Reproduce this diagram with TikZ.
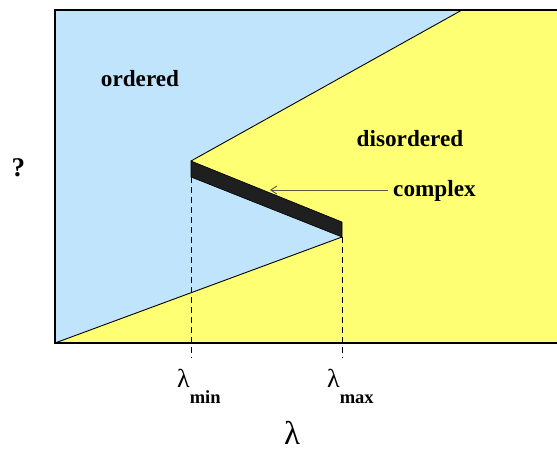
\documentclass[tikz,border=0pt]{standalone}
\usepackage{fontspec}
\setmainfont{Liberation Serif}
\usetikzlibrary{arrows.meta}
\definecolor{ordblue}{RGB}{191,228,252}
\definecolor{disyellow}{RGB}{255,255,115}
\definecolor{arrowgray}{RGB}{85,90,75}
\tikzset{
  region/.style={inner sep=0pt, font=\fontsize{23.2}{24}\selectfont\bfseries},
  lamlabel/.style={inner sep=0pt, anchor=base west},
  boundary/.style={draw=black, line width=0.9pt},
  guide/.style={draw=black, line width=0.7pt, dash pattern=on 6pt off 4pt},
}
\begin{document}
\begin{tikzpicture}[x=1pt,y=-1pt]
\useasboundingbox (0,0) rectangle (557,450);
% corner coordinates
\coordinate (tl) at (55,10);
\coordinate (tr) at (557,10);
\coordinate (br) at (557,343);
\coordinate (bl) at (55,343);
\coordinate (top) at (462,10);
\coordinate (a) at (191,161);
\coordinate (b) at (342,222);
\coordinate (c) at (342,237);
\coordinate (d) at (191,177);
\coordinate (amin) at (191,358);
\coordinate (amax) at (342,358);
\coordinate (tip) at (270,190);
% regions
\fill[ordblue] (tl) rectangle (br);
\fill[disyellow] (top) -- (tr) -- (br) -- (bl) -- (c) -- (b) -- (a) -- cycle;
\fill[black!88] (a) -- (b) -- (c) -- (d) -- cycle;
\draw[boundary] (a) -- (top);
\draw[boundary] (bl) -- (c);
\draw[black, line width=0.6pt] (a) -- (b) -- (c) -- (d) -- cycle;
\draw[guide] (d) -- (amin);
\draw[guide] (c) -- (amax);
\draw[black, line width=1.4pt] (tr) -- (tl) -- (bl) -- (br);
% labels
\node[region, anchor=base] (ord) at (140,86) {ordered};
\node[region, anchor=base] (dis) at (410,146) {disordered};
\node[region, anchor=base west] (cpx) at (393,196) {complex};
\node[inner sep=0pt, anchor=base, font=\fontsize{27}{28}\selectfont\bfseries] (q) at (18.5,176) {?};
\draw[arrowgray, line width=0.9pt, -{Straight Barb[length=6pt,width=8pt]}] (388,190) -- (tip);
\node[lamlabel] (lmin) at (177,387) {\fontsize{26}{26}\selectfont λ\raisebox{-16pt}{\fontsize{18.5}{19}\selectfont\bfseries min}};
\node[lamlabel] (lmax) at (327,387) {\fontsize{26}{26}\selectfont λ\raisebox{-16pt}{\fontsize{18.5}{19}\selectfont\bfseries max}};
\node[inner sep=0pt, anchor=base, font=\fontsize{33}{34}\selectfont] (lam) at (292,444) {λ};
\end{tikzpicture}
\end{document}
